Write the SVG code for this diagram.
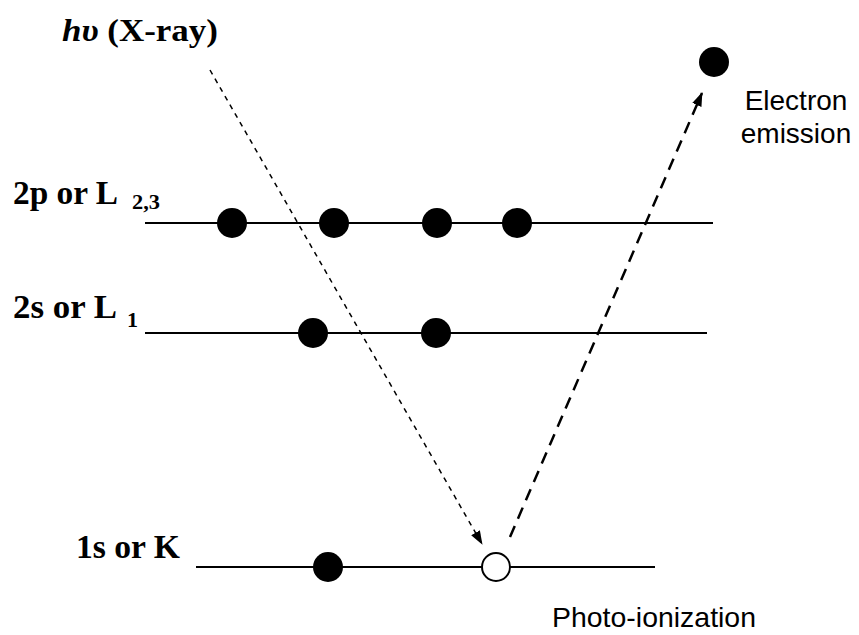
<svg xmlns="http://www.w3.org/2000/svg" width="859" height="635" viewBox="0 0 859 635">
<style>
.lvl{stroke:#000;stroke-width:2;fill:none}
.e{fill:#000}
.hole{fill:#fff;stroke:#000;stroke-width:2}
.tl{font-family:"Liberation Serif","Times New Roman",serif;font-weight:bold;font-size:34px;fill:#000}
.sub{font-family:"Liberation Serif","Times New Roman",serif;font-weight:bold;font-size:20px;fill:#000}
.al{font-family:"Liberation Sans",Arial,sans-serif;font-size:28px;fill:#000}
</style>
<defs>
<marker id="ah" markerWidth="14" markerHeight="10" refX="13" refY="5" orient="auto" markerUnits="userSpaceOnUse">
<path d="M0,0 L14,5 L0,10 Z" fill="#000"/>
</marker>
</defs>
<rect width="859" height="635" fill="#fff"/>
<g id="level-2p">
<line class="lvl" x1="145" y1="223" x2="713" y2="223"/>
<text class="tl" x="13" y="204" textLength="105" lengthAdjust="spacingAndGlyphs">2p or L</text>
<text class="sub" x="132" y="209" textLength="28" lengthAdjust="spacingAndGlyphs">2,3</text>
<circle class="e" cx="232" cy="223" r="15"/>
<circle class="e" cx="334" cy="223" r="15"/>
<circle class="e" cx="437" cy="223" r="15"/>
<circle class="e" cx="517" cy="223" r="15"/>
</g>
<g id="level-2s">
<line class="lvl" x1="145" y1="333" x2="707" y2="333"/>
<text class="tl" x="13" y="318" textLength="104" lengthAdjust="spacingAndGlyphs">2s or L</text>
<text class="sub" x="127" y="327" style="font-size:22px">1</text>
<circle class="e" cx="313" cy="333" r="15"/>
<circle class="e" cx="436" cy="333" r="15"/>
</g>
<g id="level-1s">
<line class="lvl" x1="196" y1="567" x2="655" y2="567"/>
<text class="tl" x="76" y="558" textLength="104" lengthAdjust="spacingAndGlyphs">1s or K</text>
<circle class="e" cx="328" cy="567" r="15"/>
<circle class="hole" cx="496" cy="567" r="14"/>
</g>
<g id="xray">
<text class="tl" x="62" y="41" style="font-size:32px" textLength="156" lengthAdjust="spacingAndGlyphs"><tspan font-style="italic">hυ</tspan> (X-ray)</text>
</g>
<g id="emitted">
<circle class="e" cx="714" cy="62" r="15"/>
<text class="al" x="796" y="110" text-anchor="middle">Electron</text>
<text class="al" x="796" y="143" text-anchor="middle">emission</text>
</g>
<g id="photo-label">
<text class="al" x="552" y="627" textLength="204" lengthAdjust="spacingAndGlyphs">Photo-ionization</text>
</g>
<g id="connectors">
<line x1="210" y1="70" x2="482" y2="544" stroke="#000" stroke-width="1.5" stroke-dasharray="5,5" marker-end="url(#ah)"/>
<line x1="510" y1="537" x2="702" y2="93" stroke="#000" stroke-width="2.5" stroke-dasharray="12,8" marker-end="url(#ah)"/>
</g>
</svg>
